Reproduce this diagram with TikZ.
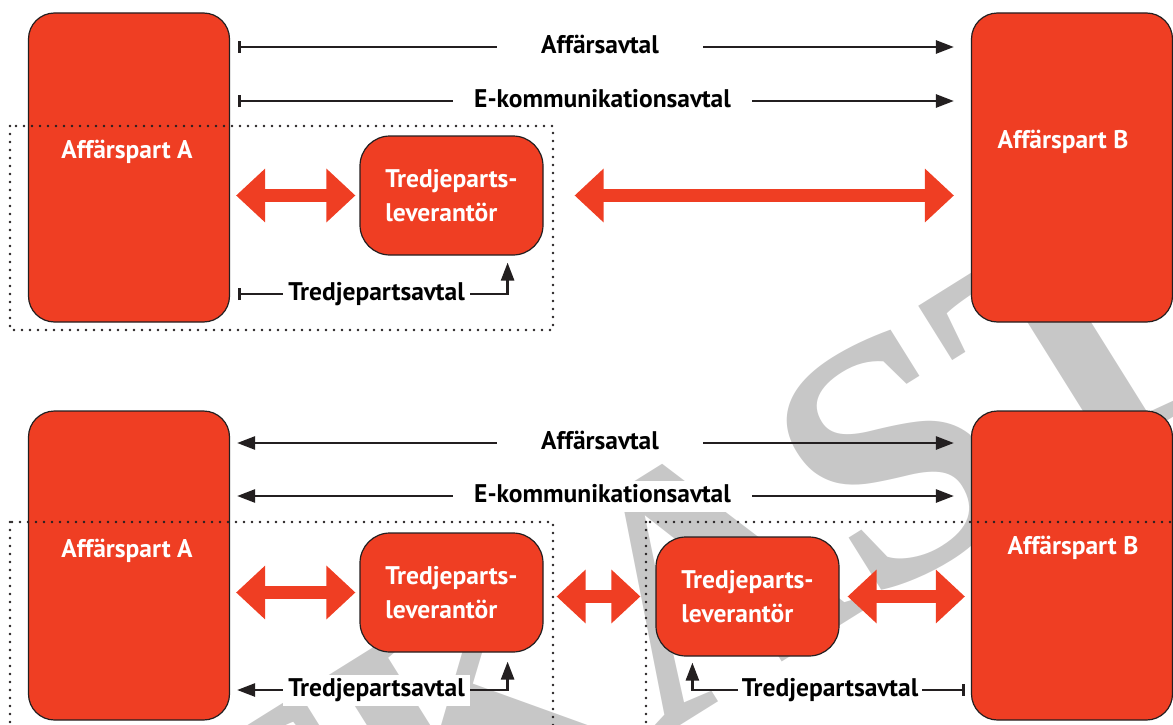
\documentclass[tikz,border=0pt]{standalone}
\usepackage{fontspec}
\setmainfont{PT Sans}
\newfontfamily\stampfont{Liberation Serif}
\usetikzlibrary{arrows.meta,positioning}
\definecolor{partred}{RGB}{239,62,35}
\definecolor{stampgray}{RGB}{199,199,199}
\definecolor{ink}{RGB}{35,31,32}
\tikzset{
  party/.style={draw=ink,line width=1.2pt,fill=partred,rounded corners=26pt,
    minimum width=201pt,minimum height=309pt,inner sep=0pt},
  supplier/.style={draw=ink,line width=1.2pt,fill=partred,rounded corners=30pt,
    minimum width=183pt,minimum height=119pt,inner sep=0pt,
    text=white,align=left,font=\bfseries\fontsize{25.5}{34}\selectfont},
  partlbl/.style={text=white,font=\bfseries\fontsize{25.5}{30}\selectfont},
  deal/.style={fill=white,inner xsep=0pt,inner ysep=3pt,text height=19pt,text depth=6pt,
    font=\bfseries\fontsize{25.5}{30}\selectfont},
  dealline/.style={draw=ink,line width=2.6pt},
  flow/.style={draw=partred,line width=13pt,
    {Triangle[length=29pt,width=52pt]}-{Triangle[length=29pt,width=52pt]}},
  zone/.style={draw=ink,line width=2.7pt,line cap=round,dash pattern=on 0pt off 8pt},
  wmark/.style={text=stampgray,font=\stampfont\bfseries\fontsize{350}{350}\selectfont,
    inner sep=0pt,anchor=base west,rotate=32},
  >={Triangle[length=18pt,width=13pt]}
}
\begin{document}
\begin{tikzpicture}[x=1pt,y=-1pt]
  \useasboundingbox (0,0) rectangle (1173,725);
  \clip (0,0) rectangle (1173,725);
  \node[wmark] (wm) at (13,1143) {UTKAST};

  % direkt
  \node[party] (A1) at (129,167.5) {};
  \node[party] (B1) at (1072,167.5) {};
  \node[supplier] (T1) at (451.5,195.5) {Tredjeparts-\\leverantör};
  \draw[zone] (10,126) rectangle (553,330);
  \node[partlbl] (A1t) at (127,152) {Affärspart A};
  \node[partlbl] (B1t) at (1063,142) {Affärspart B};
  \node[deal,minimum width=206pt] (aff1) at (600,47) {Affärsavtal};
  \node[deal,minimum width=299pt] (ekom1) at (602.5,101) {E-kommunikationsavtal};
  \node[deal,minimum width=187pt] (td1) at (376.5,294) {Tredjepartsavtal};
  \draw[dealline,{Bar[width=12pt]}-] ([xshift=8pt]aff1 -| A1.east) -- (aff1.west);
  \draw[dealline,->] (aff1.east) -- ([xshift=-17pt]aff1 -| B1.west);
  \draw[dealline,{Bar[width=12pt]}-] ([xshift=8pt]ekom1 -| A1.east) -- (ekom1.west);
  \draw[dealline,->] (ekom1.east) -- ([xshift=-17pt]ekom1 -| B1.west);
  \draw[dealline,{Bar[width=12pt]}-] ([xshift=8pt]td1 -| A1.east) -- (td1.west);
  \draw[dealline,->] (td1.east) -| ([xshift=-36pt,yshift=-7pt]T1.south east);
  \draw[flow] ([xshift=6pt]T1.west -| A1.east) -- ([xshift=-4pt]T1.west);
  \draw[flow] ([xshift=31pt]T1.east) -- ([xshift=-17pt]T1.east -| B1.west);

  % med två leverantörer
  \node[party] (A2) at (129,565.5) {};
  \node[party] (B2) at (1072,565.5) {};
  \node[supplier] (T2) at (451.5,592.5) {Tredjeparts-\\leverantör};
  \node[supplier] (T3) at (747.5,596.5) {Tredjeparts-\\leverantör};
  \draw[zone] (10,522) rectangle (553,740);
  \draw[zone] (646,522) rectangle (1190,740);
  \node[partlbl] (A2t) at (127,551) {Affärspart A};
  \node[partlbl] (B2t) at (1073,548) {Affärspart B};
  \node[deal,minimum width=206pt] (aff2) at (600,443) {Affärsavtal};
  \node[deal,minimum width=299pt] (ekom2) at (602.5,496) {E-kommunikationsavtal};
  \node[deal,minimum width=187pt] (td2) at (376.5,690) {Tredjepartsavtal};
  \node[deal,minimum width=184pt] (td3) at (830,690) {Tredjepartsavtal};
  \draw[dealline,<-] ([xshift=7pt]aff2 -| A2.east) -- (aff2.west);
  \draw[dealline,->] (aff2.east) -- ([xshift=-17pt]aff2 -| B2.west);
  \draw[dealline,<-] ([xshift=7pt]ekom2 -| A2.east) -- (ekom2.west);
  \draw[dealline,->] (ekom2.east) -- ([xshift=-17pt]ekom2 -| B2.west);
  \draw[dealline,<-] ([xshift=7pt]td2 -| A2.east) -- (td2.west);
  \draw[dealline,->] (td2.east) -| ([xshift=-36pt,yshift=-9pt]T2.south east);
  \draw[dealline,->] (td3.west) -| ([xshift=37pt,yshift=-6pt]T3.south west);
  \draw[dealline,{Bar[width=12pt]}-] ([xshift=-6pt]td3 -| B2.west) -- (td3.east);
  \draw[flow] ([xshift=6pt]T2.west -| A2.east) -- ([xshift=-4pt]T2.west);
  \draw[flow] ([xshift=13pt]T3.west -| T2.east) -- ([xshift=-15pt]T3.west);
  \draw[flow] ([xshift=8pt]T3.east) -- ([xshift=-6pt]T3.east -| B2.west);
\end{tikzpicture}
\end{document}
